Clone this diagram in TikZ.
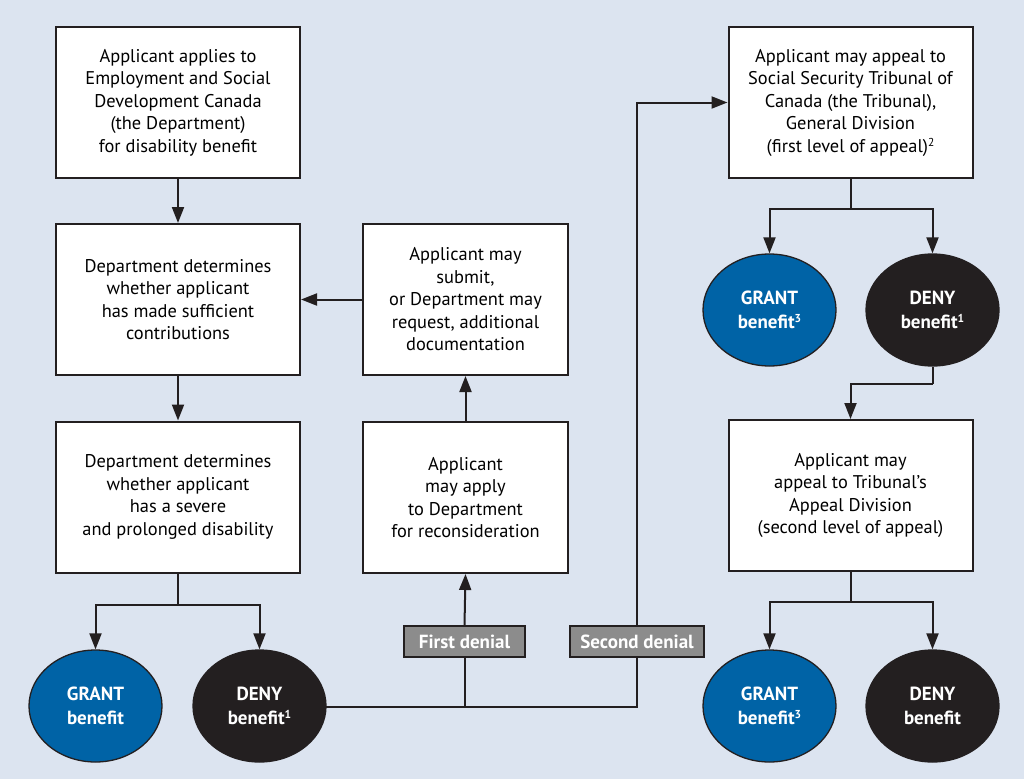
\documentclass[tikz,border=0pt]{standalone}
\usepackage{fontspec}
\setmainfont{PT Sans}
\usetikzlibrary{arrows.meta,shapes.geometric}
\definecolor{bg}{HTML}{DCE4F0}
\definecolor{grantblue}{HTML}{0063A6}
\definecolor{denyblack}{HTML}{231F20}
\definecolor{labelgray}{HTML}{8C8C8C}
\definecolor{linecol}{HTML}{231F20}
\newcommand{\supr}[1]{\raisebox{0.6ex}{\fontsize{11.5}{12}\selectfont #1}}
\begin{document}
\begin{tikzpicture}[x=1pt,y=-1pt,
  box/.style={draw=linecol,line width=2pt,fill=white,minimum width=244pt,minimum height=151pt,align=center,font=\fontsize{18.4}{22.5}\selectfont,inner sep=0pt},
  sbox/.style={box,minimum width=205pt},
  ell/.style={ellipse,draw=linecol,line width=1.3pt,minimum width=133pt,minimum height=112pt,inner sep=0pt,align=center,text=white,font=\bfseries\fontsize{19}{23.5}\selectfont},
  grant/.style={ell,fill=grantblue},
  deny/.style={ell,fill=denyblack},
  tag/.style={draw=linecol,line width=1.8pt,fill=labelgray,text=white,font=\bfseries\fontsize{19}{20}\selectfont,minimum height=31pt,inner sep=0pt},
  conn/.style={draw=linecol,line width=2pt},
  arr/.style={conn,-{Triangle[length=16pt,width=12pt]}}
]
\fill[bg] (0,0) rectangle (1024,779);
\useasboundingbox (0,0) rectangle (1024,779);

\node[box] (A) at (178,102.5) {Applicant applies to\\Employment and Social\\Development Canada\\(the Department)\\for disability benefit};
\node[box] (B) at (178,299.5) {Department determines\\whether applicant\\has made sufficient\\contributions};
\node[box] (C) at (178,497) {Department determines\\whether applicant\\has a severe\\and prolonged disability};
\node[sbox] (D) at (465.5,299.5) {Applicant may\\submit,\\or Department may\\request, additional\\documentation};
\node[sbox] (E) at (465.5,497.5) {Applicant\\may apply\\to Department\\for reconsideration};
\node[box] (F) at (850.5,102.5) {Applicant may appeal to\\Social Security Tribunal of\\Canada (the Tribunal),\\General Division\\(first level of appeal)\supr{2}};
\node[box] (G) at (850.5,495.5) {Applicant may\\appeal to Tribunal’s\\Appeal Division\\(second level of appeal)};

\node[grant] (g1) at (95.5,706) {GRANT\\benefit};
\node[deny] (d1) at (259.5,706) {DENY\\benefit\supr{1}};
\node[grant] (g2) at (769.5,310) {GRANT\\benefit\supr{3}};
\node[deny] (d2) at (932.5,310) {DENY\\benefit\supr{1}};
\node[grant] (g3) at (769.5,706) {GRANT\\benefit\supr{3}};
\node[deny] (d3) at (932.5,706) {DENY\\benefit};

\node[tag,minimum width=121pt] (t1) at (464.5,641.5) {First denial};
\node[tag,minimum width=134pt] (t2) at (637,641.5) {Second denial};

\draw[arr] (A) -- (B);
\draw[arr] (B) -- (C);
\draw[arr] (E) -- (D);
\draw[arr] (D) -- (B);

\coordinate (c1) at (178,605);
\draw[conn] (C.south) -- (c1);
\draw[arr] (c1) -| (g1.north);
\draw[arr] (c1) -| (d1.north);

\coordinate (j1) at (464.5,707);
\coordinate (j2) at (637,707);
\draw[conn] (d1.east) -- (d1.east |- j1) -- (j2) -- (t2.south);
\draw[conn] (j1) -- (t1.south);
\draw[arr] (t1.north) -- (E.south);
\draw[arr] (t2.north) |- (F.west);

\coordinate (c2) at (850.5,209);
\draw[conn] (F.south) -- (c2);
\draw[arr] (c2) -| (g2.north);
\draw[arr] (c2) -| (d2.north);

\coordinate (c3) at (932.5,384);
\draw[conn] (d2.south) -- (c3);
\draw[arr] (c3) -| (G.north);

\coordinate (c4) at (850.5,602);
\draw[conn] (G.south) -- (c4);
\draw[arr] (c4) -| (g3.north);
\draw[arr] (c4) -| (d3.north);
\end{tikzpicture}
\end{document}
